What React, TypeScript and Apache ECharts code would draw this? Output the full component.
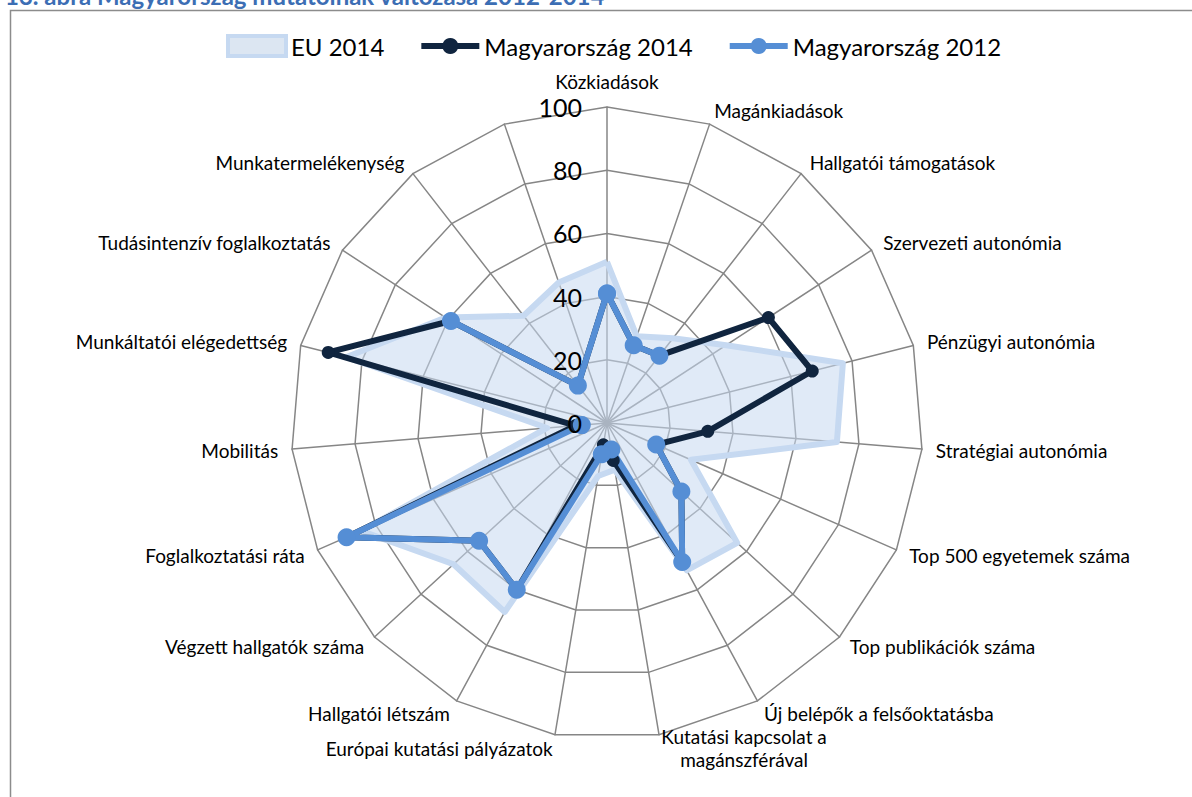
import React, { useEffect, useRef } from "react";
import * as echarts from "echarts";

const titleText = "13. ábra Magyarország mutatóinak változása 2012-2014";

const categories = [
  "Közkiadások",
  "Magánkiadások",
  "Hallgatói támogatások",
  "Szervezeti autonómia",
  "Pénzügyi autonómia",
  "Stratégiai autonómia",
  "Top 500 egyetemek száma",
  "Top publikációk száma",
  "Új belépők a felsőoktatásba",
  "Kutatási kapcsolat a\nmagánszférával",
  "Európai kutatási pályázatok",
  "Hallgatói létszám",
  "Végzett hallgatók száma",
  "Foglalkoztatási ráta",
  "Mobilitás",
  "Munkáltatói elégedettség",
  "Tudásintenzív foglalkoztatás",
  "Munkatermelékenység",
  "",
];

const seriesNames = ["EU 2014", "Magyarország 2014", "Magyarország 2012"];

const eu2014 = [51, 29, 34, 45, 77, 73, 29, 56, 53, 15, 17, 68, 66, 85, 19, 85, 61, 43, 47];
const hu2014 = [41, 26, 27, 61, 67, 32, 17, 32, 50, 12, 7, 60, 55, 90, 10, 91, 59, 15, null];
const hu2012 = [41, 26, 27, null, null, null, 17, 32, 50, 8.5, 10, 60, 55, 90, 8, null, 59, 15, null];

const tickMin = 0;
const tickMax = 100;
const tickInterval = 20;

const FONT = "Lato";

// polar points [radius, angleIndex]; gaps stay gaps, the shape is closed
// from the last plotted point back to the first one
function toPolar(vals: (number | null)[]) {
  let last = vals.length - 1;
  while (last >= 0 && vals[last] == null) last--;
  const pts: any[] = [];
  for (let k = 0; k <= last; k++) {
    pts.push(vals[k] == null ? ["-", k] : [vals[k], k]);
  }
  pts.push([vals[0], vals.length]);
  return pts;
}

export default function App() {
  const ref = useRef<HTMLDivElement>(null);

  useEffect(() => {
    if (!ref.current) return;
    const chart = echarts.init(ref.current, undefined, { renderer: "svg" });
    const n = categories.length;
    // radar goes counter-clockwise, so feed the indicators in reverse
    const order = categories.map((_, i) => (n - i) % n);
    const center = [607, 423];
    const radius = 316;

    chart.setOption({
      animation: false,
      textStyle: { fontFamily: FONT },
      title: {
        text: titleText,
        left: 0,
        top: -22,
        textStyle: { color: "#3c6eb4", fontSize: 24, fontWeight: "bold", fontFamily: FONT },
      },
      graphic: [
        {
          type: "rect",
          shape: { x: 10.5, y: 10.5, width: 1300, height: 900 },
          style: { fill: "none", stroke: "#8c8c8c", lineWidth: 1.5 },
          silent: true,
          z: -1,
        },
      ],
      legend: {
        top: 29,
        left: 221,
        itemWidth: 58,
        itemHeight: 20,
        itemGap: 34,
        textStyle: { fontSize: 24, color: "#000", fontFamily: FONT },
        data: [
          {
            name: seriesNames[0],
            icon: "rect",
            itemStyle: { color: "#dce6f2", borderColor: "#c6d9f1", borderWidth: 4 },
          },
          { name: seriesNames[1], lineStyle: { width: 6 } },
          { name: seriesNames[2], lineStyle: { width: 6 } },
        ],
      },
      radar: {
        center,
        radius,
        splitNumber: 5,
        shape: "polygon",
        nameGap: 14,
        axisName: {
          color: "#000",
          fontSize: 19,
          fontFamily: FONT,
          formatter: (name: string) =>
            name
              .split("\n")
              .map((l) => (l ? `{c|${l}}` : ""))
              .join("\n"),
          rich: {
            c: { align: "center", color: "#000", fontSize: 19, fontFamily: FONT, lineHeight: 23 },
          },
        },
        axisLine: { lineStyle: { color: "#868686", width: 1.5 } },
        splitLine: { lineStyle: { color: "#868686", width: 1.5 } },
        splitArea: { show: false },
        indicator: order.map((i) => ({ name: categories[i], min: tickMin, max: tickMax })),
      },
      polar: { center, radius },
      angleAxis: {
        type: "value",
        min: 0,
        max: n,
        startAngle: 90,
        clockwise: true,
        show: false,
      },
      radiusAxis: {
        type: "value",
        min: tickMin,
        max: tickMax,
        interval: tickInterval,
        z: 10,
        axisLine: { show: false },
        axisTick: { show: false },
        splitLine: { show: false },
        axisLabel: { fontSize: 25, color: "#000", margin: 25, fontFamily: FONT },
      },
      series: [
        {
          name: seriesNames[0],
          type: "radar",
          symbol: "none",
          lineStyle: { color: "#c6d9f1", width: 6 },
          areaStyle: { color: "#c6d9f1", opacity: 0.55 },
          itemStyle: { color: "#c6d9f1" },
          data: [{ value: order.map((i) => eu2014[i]), name: seriesNames[0] }],
        },
        {
          name: seriesNames[1],
          type: "line",
          coordinateSystem: "polar",
          symbol: "circle",
          symbolSize: 13,
          showAllSymbol: true,
          connectNulls: false,
          lineStyle: { color: "#10253f", width: 6 },
          itemStyle: { color: "#10253f" },
          data: toPolar(hu2014),
        },
        {
          name: seriesNames[2],
          type: "line",
          coordinateSystem: "polar",
          symbol: "circle",
          symbolSize: 18,
          showAllSymbol: true,
          connectNulls: false,
          lineStyle: { color: "#558ed5", width: 6 },
          itemStyle: { color: "#558ed5" },
          data: toPolar(hu2012),
        },
      ],
    });
    return () => chart.dispose();
  }, []);

  return (
    <div
      ref={ref}
      style={{ position: "absolute", left: 0, top: 0, width: 1192, height: 797, background: "#fff" }}
    />
  );
}
